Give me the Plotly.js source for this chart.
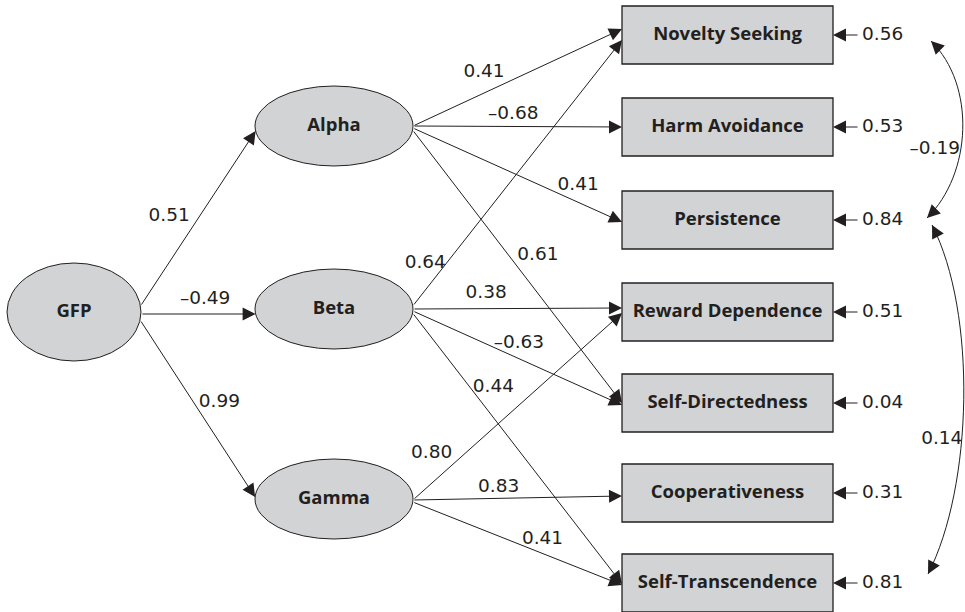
<!DOCTYPE html>
<html><head><meta charset="utf-8">
<script src="https://cdn.plot.ly/plotly-3.0.1.min.js"></script>
<style>html,body{margin:0;padding:0;background:#fff}</style>
</head><body><div id="chart" style="width:965px;height:612px"></div>
<script>
// ---------- DATA ----------
const latentNames = ['GFP', 'Alpha', 'Beta', 'Gamma'];
const observedNames = ['Novelty Seeking', 'Harm Avoidance', 'Persistence', 'Reward Dependence',
  'Self-Directedness', 'Cooperativeness', 'Self-Transcendence'];
const residualValues = [0.56, 0.53, 0.84, 0.51, 0.04, 0.31, 0.81];
const pathFrom = ['GFP', 'GFP', 'GFP', 'Alpha', 'Alpha', 'Alpha', 'Alpha',
  'Beta', 'Beta', 'Beta', 'Beta', 'Gamma', 'Gamma', 'Gamma'];
const pathTo = ['Alpha', 'Beta', 'Gamma', 'Novelty Seeking', 'Harm Avoidance', 'Persistence', 'Self-Directedness',
  'Novelty Seeking', 'Reward Dependence', 'Self-Directedness', 'Self-Transcendence',
  'Reward Dependence', 'Cooperativeness', 'Self-Transcendence'];
const pathCoef = [0.51, -0.49, 0.99, 0.41, -0.68, 0.41, 0.61, 0.64, 0.38, -0.63, 0.44, 0.80, 0.83, 0.41];
const covFrom = ['Novelty Seeking', 'Persistence'];
const covTo = ['Persistence', 'Self-Transcendence'];
const covValue = [-0.19, 0.14];

// ---------- GEOMETRY / STYLE ----------
const INK = '#231f20', FILL = '#d1d3d4';
const latentGeom = {
  GFP: {cx: 74, cy: 312, rx: 67, ry: 49},
  Alpha: {cx: 334, cy: 126, rx: 79, ry: 40},
  Beta: {cx: 334, cy: 309, rx: 79, ry: 40},
  Gamma: {cx: 334, cy: 499, rx: 79, ry: 40}
};
const boxX0 = 622, boxX1 = 833, boxHalfH = 29;
const boxCy = [35, 127, 220, 312, 403, 493, 583];
const pathStartDy = [-6, 2, 8, 0, 0, 2, 4, -3, 0, 2, 4, 1, 1, 3];
const pathEndDy = [5, 5, -2, -6, 0, 2, 0, 5, -4, 2, 1, 1, 3, 2];
const labelT = [0.51, 0.56, 0.463, 0.34, 0.48, 0.79, 0.46, 0.16, 0.35, 0.507, 0.276, 0.247, 0.41, 0.62];
const labelDx = [-30, 0, 26, 0, 0, 0, 29, -21, 0, 0, 23, -33, 0, 0];
const labelDy = [0, -15, 0, -21, -12, -17, 0, 0, -15, -15, 0, 0, -11, -14];
const resArrowLen = 26, resLabelGap = 29;
const covX0 = [931, 932], covX1 = [927, 928];
const covStartDy = [6, 5], covEndDy = [-2, -9];
const covBulge = 45, covLabelDx = [-30, -24], covLabelDy = [20, 40];

const fmt = v => (v < 0 ? '\u2013' : '') + Math.abs(v).toFixed(2);
const obsIdx = n => observedNames.indexOf(n);

function startPoint(name, dy) {
  const g = latentGeom[name];
  return [g.cx + g.rx * Math.sqrt(1 - (dy / g.ry) ** 2), g.cy + dy];
}
function endPoint(name, dy) {
  if (latentGeom[name]) {
    const g = latentGeom[name];
    return [g.cx - g.rx * Math.sqrt(1 - (dy / g.ry) ** 2), g.cy + dy];
  }
  return [boxX0, boxCy[obsIdx(name)] + dy];
}

const shapes = [], annotations = [];
const arrowBase = {xref: 'x', yref: 'y', axref: 'x', ayref: 'y', showarrow: true, arrowhead: 2,
  arrowsize: 2.6, arrowwidth: 1, arrowcolor: INK, standoff: 0, text: ''};

// latent ellipses
latentNames.forEach(n => {
  const g = latentGeom[n];
  shapes.push({type: 'circle', xref: 'x', yref: 'y', x0: g.cx - g.rx, x1: g.cx + g.rx, y0: g.cy - g.ry, y1: g.cy + g.ry,
    fillcolor: FILL, line: {color: INK, width: 1}, layer: 'below'});
});
// observed boxes
observedNames.forEach((n, i) => {
  shapes.push({type: 'rect', xref: 'x', yref: 'y', x0: boxX0, x1: boxX1, y0: boxCy[i] - boxHalfH, y1: boxCy[i] + boxHalfH,
    fillcolor: FILL, line: {color: INK, width: 1.3}, layer: 'below'});
});

// paths
const coefX = [], coefY = [], coefText = [];
pathCoef.forEach((c, i) => {
  const s = startPoint(pathFrom[i], pathStartDy[i]);
  const e = endPoint(pathTo[i], pathEndDy[i]);
  annotations.push(Object.assign({}, arrowBase, {x: e[0], y: e[1], ax: s[0], ay: s[1]}));
  const t = labelT[i];
  coefX.push(s[0] + (e[0] - s[0]) * t + labelDx[i]);
  coefY.push(s[1] + (e[1] - s[1]) * t + labelDy[i]);
  coefText.push(fmt(c));
});

// residuals
const resX = [], resY = [], resText = [];
residualValues.forEach((v, i) => {
  annotations.push(Object.assign({}, arrowBase, {x: boxX1, y: boxCy[i], ax: boxX1 + resArrowLen, ay: boxCy[i]}));
  resX.push(boxX1 + resLabelGap); resY.push(boxCy[i]); resText.push(fmt(v));
});

// covariances
const covLX = [], covLY = [], covText = [];
covValue.forEach((v, i) => {
  const y0 = boxCy[obsIdx(covFrom[i])] + covStartDy[i];
  const y1 = boxCy[obsIdx(covTo[i])] + covEndDy[i];
  const x0 = covX0[i], x1 = covX1[i];
  const c1 = [x0 + covBulge, y0 + (y1 - y0) * 0.25];
  const c2 = [x1 + covBulge, y1 - (y1 - y0) * 0.25];
  shapes.push({type: 'path', xref: 'x', yref: 'y',
    path: `M ${x0},${y0} C ${c1[0]},${c1[1]} ${c2[0]},${c2[1]} ${x1},${y1}`,
    line: {color: INK, width: 1}, layer: 'below'});
  const u = (p, q) => { const dx = q[0] - p[0], dy = q[1] - p[1], L = Math.hypot(dx, dy); return [p[0] + dx / L * 8, p[1] + dy / L * 8]; };
  const t0 = u([x0, y0], c1), t1 = u([x1, y1], c2);
  annotations.push(Object.assign({}, arrowBase, {x: x0, y: y0, ax: t0[0], ay: t0[1]}));
  annotations.push(Object.assign({}, arrowBase, {x: x1, y: y1, ax: t1[0], ay: t1[1]}));
  covLX.push(x0 + 0.75 * covBulge + covLabelDx[i]);
  covLY.push((y0 + y1) / 2 + covLabelDy[i]);
  covText.push(fmt(v));
});

const numFont = {family: 'DejaVu Sans', size: 18.5, color: INK};
const nodeFont = {family: 'Open Sans', size: 18.5, color: INK, weight: 700};

const data = [
  {type: 'scatter', mode: 'text', x: latentNames.map(n => latentGeom[n].cx), y: latentNames.map(n => latentGeom[n].cy),
    text: latentNames, textposition: 'middle center', textfont: nodeFont, hoverinfo: 'skip'},
  {type: 'scatter', mode: 'text', x: observedNames.map(() => (boxX0 + boxX1) / 2), y: boxCy,
    text: observedNames, textposition: 'middle center', textfont: nodeFont, hoverinfo: 'skip'},
  {type: 'scatter', mode: 'text', x: coefX, y: coefY, text: coefText, textposition: 'middle center',
    textfont: numFont, hoverinfo: 'skip'},
  {type: 'scatter', mode: 'text', x: resX, y: resY, text: resText, textposition: 'middle right',
    textfont: numFont, hoverinfo: 'skip'},
  {type: 'scatter', mode: 'text', x: covLX, y: covLY, text: covText, textposition: 'middle center',
    textfont: numFont, hoverinfo: 'skip'}
];

const layout = {
  width: 965, height: 612, margin: {l: 0, r: 0, t: 0, b: 0},
  paper_bgcolor: '#ffffff', plot_bgcolor: '#ffffff', showlegend: false,
  xaxis: {range: [0, 965], visible: false, fixedrange: true},
  yaxis: {range: [612, 0], visible: false, fixedrange: true},
  shapes: shapes, annotations: annotations
};
Plotly.newPlot('chart', data, layout, {staticPlot: true, displayModeBar: false});
</script></body></html>
